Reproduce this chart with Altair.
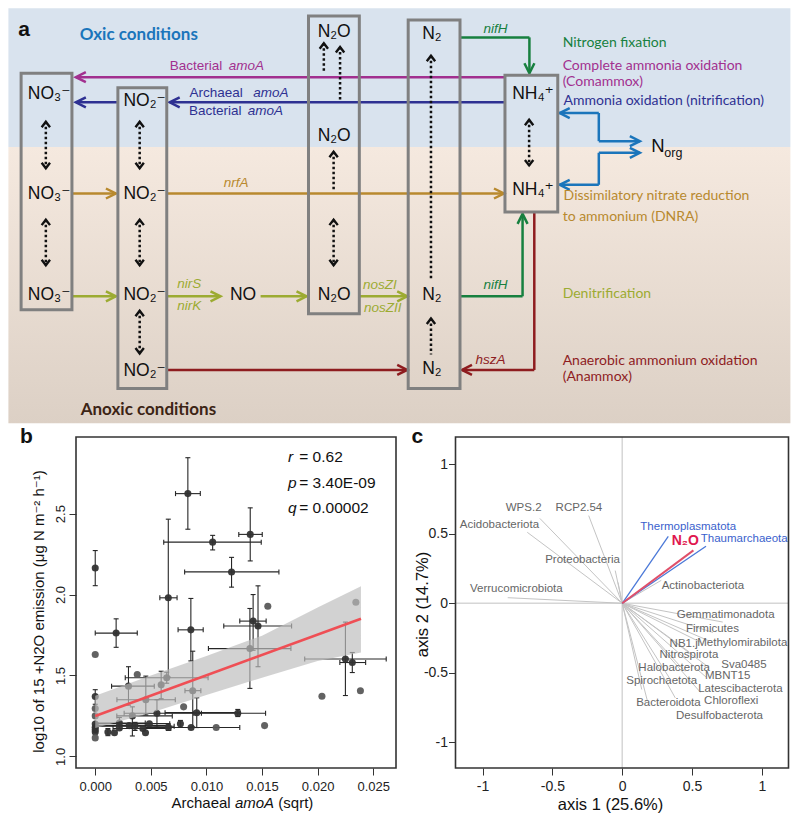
import altair as alt
import pandas as pd

SANS = "Liberation Sans, Arial, DejaVu Sans, sans-serif"
HUMAN = "Lato, Open Sans, DejaVu Sans, sans-serif"

MAG, NAVY, GOLD, OLIVE = "#a2308f", "#2e3192", "#b8892e", "#9cab32"
GREEN, DRED, LBLUE, ANOX = "#17803f", "#8e1c1f", "#1b75bb", "#3c2415"

# The figure is one view: the plot area is panel b; panels a and c are laid out
# around it with their own (independent) scales whose pixel ranges are set explicitly.
B_W, B_H = 320, 331
A_XR, A_YR = [-67.6, 714.4], [-428.7, -13.7]     # panel a pixel ranges (relative to panel b)
C_XR = [379.5, 712.5]                            # panel c horizontal pixel range

# ======================= panel a : N-cycle diagram =======================
A_XD, A_YD = [0, 800], [0, 428]

box_x1 = [13, 112, 307, 409, 508]
box_x2 = [65, 162, 359, 462, 562]
box_y1 = [67, 82, 8, 12, 69]
box_y2 = [311, 392, 315, 392, 210]

seg_x1 = [508, 508, 111, 65, 162, 65, 162, 258, 359, 462, 533, 462, 526, 162, 538, 538,
          562, 604, 604, 646, 604, 604]
seg_y1 = [71, 97, 97, 191, 191, 297, 297, 297, 297, 30, 30, 297, 297, 373, 210, 373,
          108, 108, 137, 149, 149, 182]
seg_x2 = [69, 165, 69, 110, 507, 110, 217, 305, 408, 533, 533, 526, 526, 408, 538, 464,
          604, 604, 646, 604, 604, 562]
seg_y2 = [71, 97, 97, 191, 191, 297, 297, 297, 297, 30, 67, 297, 212, 373, 373, 373,
          108, 137, 137, 149, 182, 182]
seg_col = [MAG, NAVY, NAVY, GOLD, GOLD, OLIVE, OLIVE, OLIVE, OLIVE, GREEN, GREEN, GREEN, GREEN,
           DRED, DRED, DRED, LBLUE, LBLUE, LBLUE, LBLUE, LBLUE, LBLUE]

head_x = [69, 69, 165, 110, 507, 110, 217, 305, 408, 533, 526, 408, 464, 564, 646, 646, 564]
head_y = [71, 97, 97, 191, 191, 297, 297, 297, 297, 67, 212, 373, 373, 108, 137, 149, 182]
head_ang = [180, 180, 180, 0, 0, 0, 0, 0, 0, 90, 270, 0, 180, 180, 0, 0, 180]
head_col = [MAG, NAVY, NAVY, GOLD, GOLD, OLIVE, OLIVE, OLIVE, OLIVE, GREEN, GREEN, DRED, DRED,
            LBLUE, LBLUE, LBLUE, LBLUE]

dot_x = [38.3, 38.3, 134.3, 134.3, 134.3, 322.7, 339.3, 332.7, 332.7, 432.3, 432.3, 532.7]
dot_top = [117, 218, 117, 218, 312, 36, 40, 148, 218, 49, 320, 115]
dot_bot = [165, 265, 165, 265, 356, 67, 95, 187, 265, 280, 357, 162]
dot_kind = ["both", "both", "both", "both", "both", "up", "up", "up", "both", "up", "up", "both"]

chem_text = ["NO₃⁻", "NO₃⁻", "NO₃⁻", "NO₂⁻", "NO₂⁻", "NO₂⁻", "NO₂⁻", "N₂O", "N₂O", "N₂O",
             "N₂", "N₂", "N₂", "NH₄⁺", "NH₄⁺", "NO"]
chem_x = [41.7, 41.7, 41.7, 139.3, 139.3, 139.3, 139.3, 333.3, 333.3, 333.3,
          433.3, 433.3, 433.3, 536.7, 536.7, 240]
chem_y = [88, 192, 296, 96, 192, 296, 374, 24, 132, 296, 26, 296, 372, 88, 187, 296]

gene_text = ["amoA", "amoA", "amoA", "nrfA", "nirS", "nirK", "nosZI", "nosZII", "nifH", "nifH", "hszA"]
gene_x = [243.5, 268.5, 263, 233, 185, 185, 380, 383, 498.3, 498.3, 493.3]
gene_y = [60, 87, 106, 180, 284, 307, 285, 309, 21, 285, 363]
gene_col = [MAG, NAVY, NAVY, GOLD, OLIVE, OLIVE, OLIVE, OLIVE, GREEN, GREEN, DRED]

pre_text = ["Bacterial", "Archaeal", "Bacterial"]
pre_x = [192, 212.5, 211.5]
pre_y = [60, 87, 106]
pre_col = [MAG, NAVY, NAVY]

proc_text = ["Nitrogen fixation", "Complete ammonia oxidation", "(Comammox)",
             "Ammonia oxidation (nitrification)", "Dissimilatory  nitrate reduction",
             "to ammonium (DNRA)", "Denitrification", "Anaerobic ammonium oxidation", "(Anammox)"]
proc_x = [567, 567, 567, 568, 568, 567, 567, 567, 567]
proc_y = [36, 59.5, 76.5, 96, 194, 215, 295, 363.5, 380.5]
proc_col = [GREEN, MAG, MAG, NAVY, GOLD, GOLD, OLIVE, DRED, DRED]


def axx(f):
    return alt.X(f, type="quantitative",
                 scale=alt.Scale(domain=A_XD, range=A_XR, nice=False, zero=False), axis=None)


def axy(f):
    return alt.Y(f, type="quantitative",
                 scale=alt.Scale(domain=A_YD, range=A_YR, nice=False, zero=False), axis=None)


CHEV = "M-2,-1L0,0L-2,1"
CHEV_S = "M-1.3,-1L0,0L-1.3,1"

bg_oxic = alt.Chart(pd.DataFrame({"x": [0], "x2": [800], "y": [0], "y2": [143]})).mark_rect(
    color="#d9e3ee").encode(x=axx("x"), x2="x2", y=axy("y"), y2="y2")
bg_anox = alt.Chart(pd.DataFrame({"x": [0], "x2": [800], "y": [143], "y2": [428]})).mark_rect(
    color=alt.Gradient(gradient="linear",
                       stops=[alt.GradientStop(color="#f5e9df", offset=0),
                              alt.GradientStop(color="#dcd0c5", offset=1)],
                       x1=0, x2=0, y1=0, y2=1)).encode(x=axx("x"), x2="x2", y=axy("y"), y2="y2")

seg_df = pd.DataFrame({"x1": seg_x1, "y1": seg_y1, "x2": seg_x2, "y2": seg_y2, "c": seg_col})
segs = alt.Chart(seg_df).mark_rule(strokeWidth=2.5).encode(
    x=axx("x1"), y=axy("y1"), x2="x2", y2="y2", color=alt.Color("c:N", scale=None))

head_df = pd.DataFrame({"x": head_x, "y": head_y, "a": head_ang, "c": head_col})
heads = alt.Chart(head_df).mark_point(shape=CHEV, filled=False, size=100, strokeWidth=2.5,
                                      opacity=1, strokeJoin="miter").encode(
    x=axx("x"), y=axy("y"), angle=alt.Angle("a:Q", scale=None), color=alt.Color("c:N", scale=None))

dot_df = pd.DataFrame({"x": dot_x, "t": dot_top, "b": dot_bot})
dots = alt.Chart(dot_df).mark_rule(strokeWidth=2.5, strokeDash=[2.5, 2.5], color="#111").encode(
    x=axx("x"), y=axy("t"), y2="b")

dh_x, dh_y, dh_a = [], [], []
for x, t, b, k in zip(dot_x, dot_top, dot_bot, dot_kind):
    dh_x.append(x); dh_y.append(t); dh_a.append(270)
    if k == "both":
        dh_x.append(x); dh_y.append(b); dh_a.append(90)
dot_heads = alt.Chart(pd.DataFrame({"x": dh_x, "y": dh_y, "a": dh_a})).mark_point(
    shape=CHEV_S, filled=False, size=70, strokeWidth=2.4, color="#111", opacity=1,
    strokeJoin="miter").encode(x=axx("x"), y=axy("y"), angle=alt.Angle("a:Q", scale=None))

boxes = alt.Chart(pd.DataFrame({"x1": box_x1, "x2": box_x2, "y1": box_y1, "y2": box_y2})).mark_rect(
    fill="transparent", stroke="#808080", strokeWidth=3).encode(
    x=axx("x1"), x2="x2", y=axy("y1"), y2="y2")

chem = alt.Chart(pd.DataFrame({"x": chem_x, "y": chem_y, "t": chem_text})).mark_text(
    font=SANS, fontSize=17.5, color="#111", align="center", baseline="middle").encode(
    x=axx("x"), y=axy("y"), text="t:N")
norg = alt.Chart(pd.DataFrame({"x": [664.5], "y": [141.5], "t": ["N"]})).mark_text(
    font=SANS, fontSize=18.5, color="#111", align="center", baseline="middle").encode(
    x=axx("x"), y=axy("y"), text="t:N")
norg_sub = alt.Chart(pd.DataFrame({"x": [671], "y": [149], "t": ["org"]})).mark_text(
    font=SANS, fontSize=12.5, color="#111", align="left", baseline="middle").encode(
    x=axx("x"), y=axy("y"), text="t:N")
genes = alt.Chart(pd.DataFrame({"x": gene_x, "y": gene_y, "t": gene_text, "c": gene_col})).mark_text(
    font=SANS, fontSize=13.5, fontStyle="italic", align="center", baseline="middle").encode(
    x=axx("x"), y=axy("y"), text="t:N", color=alt.Color("c:N", scale=None))
pres = alt.Chart(pd.DataFrame({"x": pre_x, "y": pre_y, "t": pre_text, "c": pre_col})).mark_text(
    font=SANS, fontSize=13.5, align="center", baseline="middle").encode(
    x=axx("x"), y=axy("y"), text="t:N", color=alt.Color("c:N", scale=None))
procs = alt.Chart(pd.DataFrame({"x": proc_x, "y": proc_y, "t": proc_text, "c": proc_col})).mark_text(
    font=HUMAN, fontSize=14, align="left", baseline="middle").encode(
    x=axx("x"), y=axy("y"), text="t:N", color=alt.Color("c:N", scale=None))
heads_txt = alt.Chart(pd.DataFrame({"x": [73, 74], "y": [28, 414],
                                    "t": ["Oxic conditions", "Anoxic conditions"],
                                    "c": [LBLUE, ANOX]})).mark_text(
    font=HUMAN, fontSize=17, fontWeight="bold", align="left", baseline="middle").encode(
    x=axx("x"), y=axy("y"), text="t:N", color=alt.Color("c:N", scale=None))
lab_a = alt.Chart(pd.DataFrame({"x": [16], "y": [22], "t": ["a"]})).mark_text(
    font=SANS, fontSize=21, fontWeight="bold", color="#111", align="center", baseline="middle").encode(
    x=axx("x"), y=axy("y"), text="t:N")

layers_a = [bg_oxic, bg_anox, segs, heads, dots, dot_heads, boxes, chem, norg, norg_sub,
            genes, pres, procs, heads_txt, lab_a]

# ======================= panel b : scatter =======================
b_x = [0.0, 0.00188, 0.0, 0.00833, 0.01056, 0.01394, 0.01226, 0.00657, 0.00860, 0.01420,
       0.01464, 0.01552, 0.01391, 0.02344, 0.02250, 0.02312, 0.02039, 0.02385, 0.01523, 0.01282,
       0.00913, 0.00877, 0.00795, 0.00643, 0.00593, 0.00299, 0.00378, 0.00455, 0.00334, 0.00555,
       0.0, 0.0, 0.0, 0.0, 0.0, 0.0, 0.0, 0.0, 0.00114, 0.00173,
       0.00217, 0.00217, 0.00305, 0.00358, 0.00428, 0.00452, 0.00487, 0.00657, 0.00766, 0.00862,
       0.01088]
b_y = [2.164, 1.762, 1.630, 2.624, 2.324, 2.372, 2.140, 1.980, 1.782, 1.836,
       1.806, 1.928, 1.666, 1.952, 1.602, 1.580, 1.372, 1.406, 1.190, 1.266,
       1.270, 1.406, 1.306, 1.486, 1.442, 1.434, 1.506, 1.350, 1.250, 1.266,
       1.370, 1.296, 1.250, 1.200, 1.180, 1.165, 1.150, 1.114, 1.150, 1.146,
       1.206, 1.176, 1.190, 1.186, 1.172, 1.146, 1.202, 1.180, 1.202, 1.178,
       1.178]
N = None
b_xlo = [N, 0.0, N, 0.00722, 0.00616, 0.01291, 0.00804, 0.00581, 0.00745, 0.01300,
         0.01156, N, 0.01018, N, 0.01884, 0.02200, N, N, N, 0.00886,
         0.00628, 0.00807, N, 0.00270, N, 0.00147, N, 0.00195, 0.00194, 0.00260,
         N, N, N, N, N, N, N, N, N, N,
         0.0, N, 0.0, 0.0, 0.0016, N, 0.0, N, N, 0.0045,
         N]
b_xhi = [N, 0.00378, N, 0.00945, 0.01493, 0.01502, 0.01652, 0.00736, 0.00971, 0.01537,
         0.01766, N, 0.01760, N, 0.02617, 0.02432, N, N, N, 0.01532,
         0.01303, 0.00950, N, 0.01015, N, 0.00531, N, 0.00720, 0.00693, 0.00955,
         N, N, N, N, N, N, N, N, N, N,
         0.0045, N, 0.0067, 0.0071, 0.0068, N, 0.0067, N, N, 0.0130,
         N]
b_ylo = [2.055, 1.674, N, 2.404, 2.276, 2.208, 2.046, 1.490, 1.590, 1.656,
         1.554, N, 1.420, N, 1.376, 1.518, N, N, N, 1.246,
         1.178, 1.182, N, 1.452, 1.356, 1.316, N, 1.256, 1.126, 1.180,
         1.322, N, N, N, N, N, N, N, 1.128, N,
         1.170, N, N, 1.160, N, N, N, 1.160, 1.180, N,
         N]
b_yhi = [2.272, 1.850, N, 2.846, 2.366, 2.536, 2.230, 2.466, 1.976, 2.000,
         2.054, N, 1.914, N, 1.830, 1.642, N, N, N, 1.290,
         1.362, 1.650, N, 1.520, 1.526, 1.554, N, 1.496, 1.306, 1.350,
         1.412, N, N, N, N, N, N, N, 1.172, N,
         1.240, N, N, 1.210, N, N, N, 1.200, 1.222, N,
         N]
b_shade = ["d", "d", "m", "d", "d", "d", "d", "d", "d", "d",
           "d", "m", "d", "m", "d", "d", "m", "m", "m", "d",
           "d", "d", "m", "d", "d", "d", "m", "d", "d", "d",
           "d", "m", "m", "d", "d", "d", "d", "m", "d", "d",
           "d", "d", "d", "d", "d", "d", "d", "d", "d", "d",
           "m"]

band_x = [0.0, 0.005, 0.010, 0.015, 0.020, 0.0239]
band_lo = [1.175, 1.270, 1.380, 1.486, 1.590, 1.642]
band_hi = [1.375, 1.500, 1.620, 1.746, 1.920, 2.052]
fit_x = [0.0, 0.0239]
fit_y = [1.25, 1.85]

stat_sym = ["r", "p", "q"]
stat_val = ["= 0.62", "= 3.40E-09", "= 0.00002"]
stat_y = [2.85, 2.69, 2.536]

# x-axis title pieces of panel b ("amoA" in italics)
bt_text = ["Archaeal", "amoA", "(sqrt)"]
bt_style = ["normal", "italic", "normal"]
bt_px = [95.5, 158.9, 202.3]

B_XD, B_YD = [-0.00173, 0.02705], [0.928, 2.974]

AX_COMMON = dict(grid=False, domain=False, tickSize=7, tickColor="#333", tickWidth=1,
                 labelFont=SANS, labelColor="#222", titleFont=SANS, titleColor="#111",
                 titleFontWeight="normal", labelFlush=False, labelOverlap=False)

axis_bx = alt.Axis(orient="bottom", values=[0, 0.005, 0.01, 0.015, 0.02, 0.025], format=".3f",
                   labelFontSize=13, labelPadding=5, **AX_COMMON)
axis_by = alt.Axis(orient="left", values=[1.0, 1.5, 2.0, 2.5], format=".1f", labelFontSize=13,
                   labelAngle=270, labelAlign="center", labelBaseline="bottom", labelPadding=2,
                   titleFontSize=15, titleX=-38, titleY=174, titleAngle=270, titleAlign="center",
                   titleBaseline="middle", **AX_COMMON)
B_YT = "log10 of 15 +N2O emission (μg N m⁻² h⁻¹)"


def bx(f, ax=False):
    if ax:
        return alt.X(f, type="quantitative", scale=alt.Scale(domain=B_XD, nice=False, zero=False),
                     axis=axis_bx, title="")
    return alt.X(f, type="quantitative", scale=alt.Scale(domain=B_XD, nice=False, zero=False), axis=None)


def by(f, ax=False):
    if ax:
        return alt.Y(f, type="quantitative", scale=alt.Scale(domain=B_YD, nice=False, zero=False),
                     axis=axis_by, title=B_YT)
    return alt.Y(f, type="quantitative", scale=alt.Scale(domain=B_YD, nice=False, zero=False), axis=None)


pts = pd.DataFrame({"x": b_x, "y": b_y, "xlo": b_xlo, "xhi": b_xhi, "ylo": b_ylo, "yhi": b_yhi,
                    "s": b_shade})
pts["c"] = pts["s"].map({"d": "#333333", "m": "#5a5a5a"})
h_df = pts[pts["xlo"].notna()]
v_df = pts[pts["ylo"].notna()]
hcap = pd.concat([h_df[["xlo", "y"]].rename(columns={"xlo": "cx"}),
                  h_df[["xhi", "y"]].rename(columns={"xhi": "cx"})])
vcap = pd.concat([v_df[["x", "ylo"]].rename(columns={"ylo": "cy"}),
                  v_df[["x", "yhi"]].rename(columns={"yhi": "cy"})])

ebar_h = alt.Chart(h_df).mark_rule(strokeWidth=1.1, color="#262626").encode(
    x=bx("xlo"), x2="xhi", y=by("y"))
ebar_v = alt.Chart(v_df).mark_rule(strokeWidth=1.1, color="#262626").encode(
    x=bx("x"), y=by("ylo"), y2="yhi")
cap_h = alt.Chart(hcap).mark_tick(orient="vertical", size=5, thickness=1.1, color="#262626",
                                  opacity=1).encode(x=bx("cx"), y=by("y"))
cap_v = alt.Chart(vcap).mark_tick(orient="horizontal", size=5, thickness=1.1, color="#262626",
                                  opacity=1).encode(x=bx("x"), y=by("cy"))
dots_b = alt.Chart(pts).mark_circle(size=50, opacity=0.95).encode(
    x=bx("x"), y=by("y"), color=alt.Color("c:N", scale=None))
band = alt.Chart(pd.DataFrame({"x": band_x, "lo": band_lo, "hi": band_hi})).mark_area(
    color="#bdbdbd", opacity=0.68).encode(x=bx("x", True), y=by("lo", True), y2="hi")
fit = alt.Chart(pd.DataFrame({"x": fit_x, "y": fit_y})).mark_line(
    color="#ef4f55", strokeWidth=2.6).encode(x=bx("x"), y=by("y"))
st_sym = alt.Chart(pd.DataFrame({"x": [0.01734] * 3, "y": stat_y, "t": stat_sym})).mark_text(
    font=SANS, fontSize=15.5, fontStyle="italic", align="left", baseline="middle", color="#111").encode(
    x=bx("x"), y=by("y"), text="t:N")
st_val = alt.Chart(pd.DataFrame({"x": [0.01835] * 3, "y": stat_y, "t": stat_val})).mark_text(
    font=SANS, fontSize=15.5, align="left", baseline="middle", color="#111").encode(
    x=bx("x"), y=by("y"), text="t:N")

one = pd.DataFrame({"k": [0]})


def panel_label(letter, px):
    return alt.Chart(one).mark_text(text=letter, font=SANS, fontSize=21, fontWeight="bold",
                                    color="#111", align="left", baseline="alphabetic").encode(
        x=alt.value(px), y=alt.value(6))


def title_piece(txt, style, px):
    return alt.Chart(one).mark_text(text=txt, font=SANS, fontSize=15, fontStyle=style,
                                    color="#111", align="left", baseline="middle").encode(
        x=alt.value(px), y=alt.value(B_H + 35))


layers_b = [ebar_h, ebar_v, cap_h, cap_v, dots_b, band, fit, st_sym, st_val, panel_label("b", -56)]
layers_b += [title_piece(t, s, p) for t, s, p in zip(bt_text, bt_style, bt_px)]

# ======================= panel c : ordination biplot =======================
vec_name = ["Acidobacteriota", "WPS.2", "RCP2.54", "Proteobacteria", "Proteobacteria_b",
            "Verrucomicrobiota", "Actinobacteriota", "Gemmatimonadota", "Firmicutes",
            "Methylomirabilota", "NB1.j", "Nitrospirota", "Sva0485", "MBNT15", "Latescibacterota",
            "Halobacterota", "Spirochaetota", "Chloroflexi", "Bacteroidota", "Desulfobacterota",
            "Thermoplasmatota", "Thaumarchaeota", "N2O"]
vec_x = [-0.68, -0.59, -0.24, -0.05, -0.03, -0.82, 0.28, 0.72, 0.65, 0.62, 0.56, 0.48, 0.62,
         0.60, 0.56, 0.45, 0.34, 0.38, 0.18, 0.14, 0.33, 0.60, 0.51]
vec_y = [0.51, 0.61, 0.63, 0.235, 0.15, 0.04, 0.165, -0.135, -0.21, -0.27, -0.28, -0.35, -0.46,
         -0.53, -0.64, -0.49, -0.54, -0.68, -0.70, -0.62, 0.48, 0.41, 0.38]
vec_grp = ["g"] * 20 + ["b", "b", "r"]

lab_text = ["WPS.2", "RCP2.54", "Acidobacteriota", "Proteobacteria", "Verrucomicrobiota",
            "Actinobacteriota", "Gemmatimonadota", "Firmicutes", "NB1.j", "Methylomirabilota",
            "Nitrospirota", "Sva0485", "Halobacterota", "MBNT15", "Spirochaetota",
            "Latescibacterota", "Chloroflexi", "Bacteroidota", "Desulfobacterota",
            "Thermoplasmatota", "Thaumarchaeota"]
lab_x = [-0.706, -0.31, -0.879, -0.284, -0.758, 0.578, 0.741, 0.646, 0.440, 0.860,
         0.478, 0.872, 0.372, 0.755, 0.283, 0.846, 0.781, 0.331, 0.697, 0.473, 0.874]
lab_y = [0.688, 0.688, 0.564, 0.31, 0.105, 0.126, -0.086, -0.186, -0.296, -0.284,
         -0.373, -0.443, -0.466, -0.522, -0.562, -0.615, -0.704, -0.72, -0.807, 0.548, 0.462]
lab_grp = ["g"] * 19 + ["b", "b"]

n2o_x, n2o_y = [0.452], [0.448]

C_XD, C_YD = [-1.194, 1.191], [-1.184, 1.195]
GREY_V, BLUE_V, RED_V = "#c4c4c4", "#4a78d8", "#e0506a"

axis_cx = alt.Axis(orient="bottom", values=[-1, -0.5, 0, 0.5, 1], labelExpr="'' + datum.value",
                   labelFontSize=14, labelPadding=4, titleFontSize=16.5, titleX=534, titleY=36,
                   titleAlign="center", titleBaseline="middle", **AX_COMMON)
axis_cy = alt.Axis(orient="left", offset=-C_XR[0], values=[-1, -0.5, 0, 0.5, 1],
                   labelExpr="'' + datum.value", labelFontSize=14, labelPadding=1,
                   titleFontSize=16.5, titleX=-33, titleY=167, titleAngle=270,
                   titleAlign="center", titleBaseline="middle", **AX_COMMON)


def cx(f, ax=False):
    sc = alt.Scale(domain=C_XD, range=C_XR, nice=False, zero=False)
    if ax:
        return alt.X(f, type="quantitative", scale=sc, axis=axis_cx, title="axis 1 (25.6%)")
    return alt.X(f, type="quantitative", scale=sc, axis=None)


def cy(f, ax=False):
    sc = alt.Scale(domain=C_YD, nice=False, zero=False)
    if ax:
        return alt.Y(f, type="quantitative", scale=sc, axis=axis_cy, title="axis 2 (14.7%)")
    return alt.Y(f, type="quantitative", scale=sc, axis=None)


frame_c = alt.Chart(pd.DataFrame({"x1": [C_XD[0]], "x2": [C_XD[1]], "y1": [C_YD[0]], "y2": [C_YD[1]]})
                    ).mark_rect(fill="transparent", stroke="#333", strokeWidth=1.6).encode(
    x=cx("x1", True), x2="x2", y=cy("y1", True), y2="y2")

zero_df = pd.DataFrame({"v": [0.0], "lo": [C_XD[0]], "hi": [C_XD[1]],
                        "ylo": [C_YD[0]], "yhi": [C_YD[1]]})
zx = alt.Chart(zero_df).mark_rule(color="#d6d6d6", strokeWidth=1.5).encode(
    x=cx("v"), y=cy("ylo"), y2="yhi")
zy = alt.Chart(zero_df).mark_rule(color="#d6d6d6", strokeWidth=1.5).encode(
    y=cy("v"), x=cx("lo"), x2="hi")

vec_df = pd.DataFrame({"x0": 0.0, "y0": 0.0, "x": vec_x, "y": vec_y, "g": vec_grp})
vec_df["c"] = vec_df["g"].map({"g": GREY_V, "b": BLUE_V, "r": RED_V})
vecs_g = alt.Chart(vec_df[vec_df["g"] == "g"]).mark_rule(strokeWidth=1.0).encode(
    x=cx("x0"), y=cy("y0"), x2="x", y2="y", color=alt.Color("c:N", scale=None))
vecs_b = alt.Chart(vec_df[vec_df["g"] == "b"]).mark_rule(strokeWidth=1.3).encode(
    x=cx("x0"), y=cy("y0"), x2="x", y2="y", color=alt.Color("c:N", scale=None))
vecs_r = alt.Chart(vec_df[vec_df["g"] == "r"]).mark_rule(strokeWidth=2.0).encode(
    x=cx("x0"), y=cy("y0"), x2="x", y2="y", color=alt.Color("c:N", scale=None))

lab_df = pd.DataFrame({"x": lab_x, "y": lab_y, "t": lab_text, "g": lab_grp})
lab_df["c"] = lab_df["g"].map({"g": "#666666", "b": "#3a5fcd"})
labs = alt.Chart(lab_df).mark_text(font=SANS, fontSize=11.5, align="center", baseline="middle").encode(
    x=cx("x"), y=cy("y"), text="t:N", color=alt.Color("c:N", scale=None))
n2o = alt.Chart(pd.DataFrame({"x": n2o_x, "y": n2o_y, "t": ["N₂O"]})).mark_text(
    font=SANS, fontSize=14, fontWeight="bold", color="#e0174f", align="center", baseline="middle").encode(
    x=cx("x"), y=cy("y"), text="t:N")

layers_c = [zx, zy, vecs_g, vecs_b, vecs_r, labs, n2o, frame_c, panel_label("c", C_XR[0] - 44)]

chart = alt.layer(*(layers_a + layers_b + layers_c)).resolve_scale(
    x="independent", y="independent").properties(
    width=B_W, height=B_H, padding=0, background="white",
    view=alt.ViewBackground(stroke="#333", strokeWidth=1.6))

chart.save("out.html", embed_options={"renderer": "svg", "actions": False})
